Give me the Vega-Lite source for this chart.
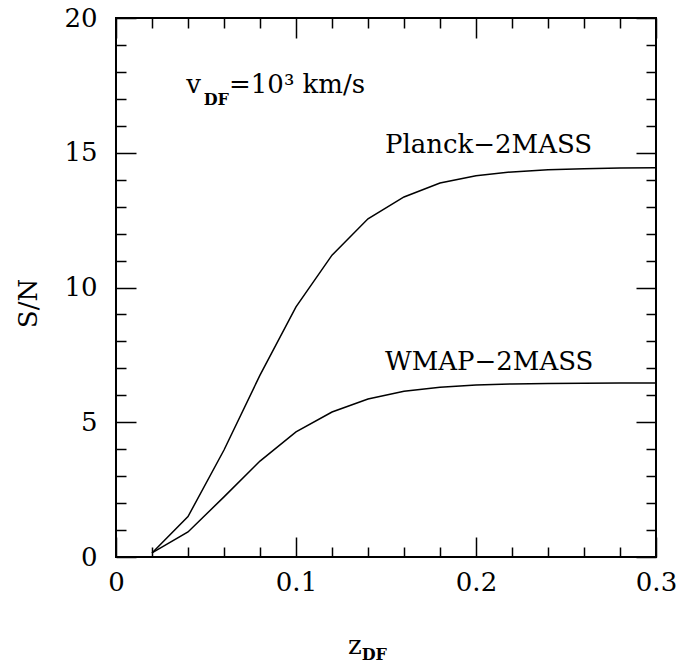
{
  "$schema": "https://vega.github.io/schema/vega-lite/v6.json",
  "autosize": "none",
  "width": 540,
  "height": 539,
  "padding": {"left": 116, "top": 18, "right": 21, "bottom": 106},
  "background": "white",
  "config": {
    "view": {"stroke": "black", "strokeWidth": 2},
    "font": "DejaVu Serif",
    "axis": {"domain": false, "grid": false, "tickColor": "black", "labelColor": "black", "labelFont": "DejaVu Serif", "labelFontSize": 26, "tickWidth": 1.5, "labelFlush": false, "labelOverlap": false}
  },
  "datasets": {
    "curves": [
      {"z": 0.02, "sn": 0.15, "series": "Planck"},
      {"z": 0.04, "sn": 1.5, "series": "Planck"},
      {"z": 0.06, "sn": 3.97, "series": "Planck"},
      {"z": 0.08, "sn": 6.75, "series": "Planck"},
      {"z": 0.10, "sn": 9.28, "series": "Planck"},
      {"z": 0.12, "sn": 11.2, "series": "Planck"},
      {"z": 0.14, "sn": 12.55, "series": "Planck"},
      {"z": 0.16, "sn": 13.36, "series": "Planck"},
      {"z": 0.18, "sn": 13.88, "series": "Planck"},
      {"z": 0.20, "sn": 14.15, "series": "Planck"},
      {"z": 0.22, "sn": 14.29, "series": "Planck"},
      {"z": 0.24, "sn": 14.37, "series": "Planck"},
      {"z": 0.26, "sn": 14.41, "series": "Planck"},
      {"z": 0.28, "sn": 14.43, "series": "Planck"},
      {"z": 0.30, "sn": 14.44, "series": "Planck"},
      {"z": 0.02, "sn": 0.15, "series": "WMAP"},
      {"z": 0.04, "sn": 0.93, "series": "WMAP"},
      {"z": 0.06, "sn": 2.23, "series": "WMAP"},
      {"z": 0.08, "sn": 3.56, "series": "WMAP"},
      {"z": 0.10, "sn": 4.64, "series": "WMAP"},
      {"z": 0.12, "sn": 5.38, "series": "WMAP"},
      {"z": 0.14, "sn": 5.86, "series": "WMAP"},
      {"z": 0.16, "sn": 6.15, "series": "WMAP"},
      {"z": 0.18, "sn": 6.3, "series": "WMAP"},
      {"z": 0.20, "sn": 6.38, "series": "WMAP"},
      {"z": 0.22, "sn": 6.42, "series": "WMAP"},
      {"z": 0.24, "sn": 6.44, "series": "WMAP"},
      {"z": 0.26, "sn": 6.45, "series": "WMAP"},
      {"z": 0.28, "sn": 6.46, "series": "WMAP"},
      {"z": 0.30, "sn": 6.46, "series": "WMAP"}
    ],
    "big": [
      {"text": "v", "x": 0.039, "y": 17.22},
      {"text": "=10³  km/s", "x": 0.0628, "y": 17.22},
      {"text": "Planck−2MASS", "x": 0.1494, "y": 15},
      {"text": "WMAP−2MASS", "x": 0.1494, "y": 6.95}
    ],
    "subs": [
      {"text": "DF", "x": 0.0487, "y": 17.22}
    ],
    "xsub": [
      {"text": "DF", "x": 0.1365, "y": -3.6}
    ],
    "xtitle": [
      {"text": "z", "x": 0.1289, "y": -3.6}
    ]
  },
  "resolve": {"axis": {"x": "independent", "y": "independent"}},
  "layer": [
    {
      "data": {"name": "curves"},
      "mark": {"type": "line", "color": "black", "strokeWidth": 1.5},
      "encoding": {
        "x": {"field": "z", "type": "quantitative", "scale": {"domain": [0, 0.3], "nice": false, "zero": false},
              "axis": {"orient": "bottom", "values": [0, 0.1, 0.2, 0.3], "tickSize": -20, "labelPadding": 32, "title": null, "format": "~g"}},
        "y": {"field": "sn", "type": "quantitative", "scale": {"domain": [0, 20], "nice": false},
              "axis": {"orient": "left", "values": [0, 5, 10, 15, 20], "tickSize": -20, "labelPadding": 39, "title": "S/N",
                       "titleFont": "DejaVu Serif", "titleFontSize": 26, "titleFontWeight": "normal", "titleColor": "black",
                       "titleX": -88, "titleY": 285, "titleBaseline": "middle", "titleAngle": -90}},
        "detail": {"field": "series"}
      }
    },
    {
      "data": {"name": "big"},
      "mark": {"type": "text", "align": "left", "baseline": "alphabetic", "fontSize": 26, "font": "DejaVu Serif", "color": "black"},
      "encoding": {
        "x": {"field": "x", "type": "quantitative",
              "axis": {"orient": "bottom", "values": [0.02, 0.04, 0.06, 0.08, 0.12, 0.14, 0.16, 0.18, 0.22, 0.24, 0.26, 0.28], "tickSize": -10, "labels": false, "title": null}},
        "y": {"field": "y", "type": "quantitative",
              "axis": {"orient": "left", "values": [1, 2, 3, 4, 6, 7, 8, 9, 11, 12, 13, 14, 16, 17, 18, 19], "tickSize": -10, "labels": false, "title": null}},
        "text": {"field": "text"}
      }
    },
    {
      "data": {"name": "subs"},
      "mark": {"type": "text", "align": "left", "baseline": "alphabetic", "fontSize": 16, "fontWeight": "bold", "font": "DejaVu Serif", "color": "black", "dy": 12},
      "encoding": {
        "x": {"field": "x", "type": "quantitative",
              "axis": {"orient": "top", "values": [0, 0.1, 0.2, 0.3], "tickSize": -20, "labels": false, "title": null}},
        "y": {"field": "y", "type": "quantitative",
              "axis": {"orient": "right", "values": [0, 5, 10, 15, 20], "tickSize": -20, "labels": false, "title": null}},
        "text": {"field": "text"}
      }
    },
    {
      "data": {"name": "xsub"},
      "mark": {"type": "text", "align": "left", "baseline": "alphabetic", "fontSize": 16, "fontWeight": "bold", "font": "DejaVu Serif", "color": "black", "dy": 6},
      "encoding": {
        "x": {"field": "x", "type": "quantitative", "axis": null},
        "y": {"field": "y", "type": "quantitative", "axis": null},
        "text": {"field": "text"}
      }
    },
    {
      "data": {"name": "xtitle"},
      "mark": {"type": "text", "align": "left", "baseline": "alphabetic", "fontSize": 26, "font": "DejaVu Serif", "color": "black"},
      "encoding": {
        "x": {"field": "x", "type": "quantitative",
              "axis": {"orient": "top", "values": [0.02, 0.04, 0.06, 0.08, 0.12, 0.14, 0.16, 0.18, 0.22, 0.24, 0.26, 0.28], "tickSize": -10, "labels": false, "title": null}},
        "y": {"field": "y", "type": "quantitative",
              "axis": {"orient": "right", "values": [1, 2, 3, 4, 6, 7, 8, 9, 11, 12, 13, 14, 16, 17, 18, 19], "tickSize": -10, "labels": false, "title": null}},
        "text": {"field": "text"}
      }
    }
  ]
}
